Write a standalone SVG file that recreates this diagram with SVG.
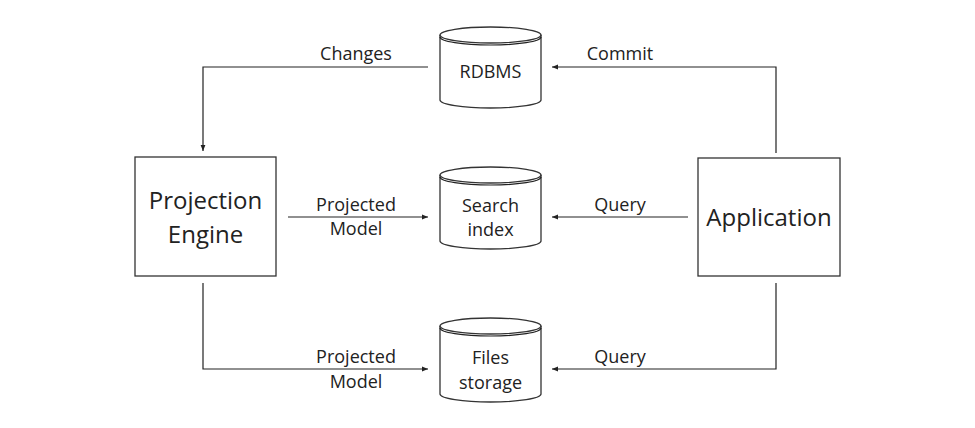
<svg xmlns="http://www.w3.org/2000/svg" width="975" height="428" viewBox="0 0 975 428">
<style>
.box{fill:#fff;stroke:#333;stroke-width:1.3}
.cyl{fill:#fff;stroke:#333;stroke-width:1.3}
.conn{fill:none;stroke:#222;stroke-width:1.2}
text{font-family:"Open Sans","Noto Sans",sans-serif;fill:#222;text-anchor:middle}
.big{font-size:24px}
.lbl{font-size:18px}
</style>
<defs>
<marker id="ah" viewBox="0 0 10 10" refX="10" refY="5" markerWidth="6" markerHeight="6" orient="auto" markerUnits="userSpaceOnUse">
<path d="M0,1 L10,5 L0,9 Z" fill="#222"/>
</marker>
</defs>
<rect width="975" height="428" fill="#fff"/>
<g id="connectors">
<path class="conn" d="M428,67 H203 V151" marker-end="url(#ah)"/>
<path class="conn" d="M288,217 H428" marker-end="url(#ah)"/>
<path class="conn" d="M203,283 V369 H428" marker-end="url(#ah)"/>
<path class="conn" d="M776,153 V67 H552" marker-end="url(#ah)"/>
<path class="conn" d="M688,217 H552" marker-end="url(#ah)"/>
<path class="conn" d="M776,283 V369 H552" marker-end="url(#ah)"/>
<text class="lbl" x="356" y="60">Changes</text>
<text class="lbl" x="356" y="211">Projected</text>
<text class="lbl" x="356" y="235">Model</text>
<text class="lbl" x="356" y="363">Projected</text>
<text class="lbl" x="356" y="388">Model</text>
<text class="lbl" x="620" y="60">Commit</text>
<text class="lbl" x="620" y="211">Query</text>
<text class="lbl" x="620" y="363">Query</text>
</g>
<g id="projection-engine">
<rect class="box" x="135" y="157" width="141" height="119"/>
<text class="big" x="205.5" y="209">Projection</text>
<text class="big" x="205.5" y="243">Engine</text>
</g>
<g id="application">
<rect class="box" x="698" y="158" width="142" height="118"/>
<text class="big" x="769" y="226">Application</text>
</g>
<g id="rdbms">
<path class="cyl" d="M440,35 V100 A50.5,8 0 0 0 541,100 V35"/>
<ellipse class="cyl" cx="490.5" cy="35" rx="50.5" ry="8"/>
<path class="conn" d="M440,37 A50.5,8 0 0 0 541,37" stroke="#333"/>
<text class="lbl" x="490.5" y="78">RDBMS</text>
</g>
<g id="search-index">
<path class="cyl" d="M440,175 V241 A50.5,8 0 0 0 541,241 V175"/>
<ellipse class="cyl" cx="490.5" cy="175" rx="50.5" ry="8"/>
<path class="conn" d="M440,177 A50.5,8 0 0 0 541,177" stroke="#333"/>
<text class="lbl" x="490.5" y="212">Search</text>
<text class="lbl" x="490.5" y="236">index</text>
</g>
<g id="files-storage">
<path class="cyl" d="M440,326 V394 A50.5,8 0 0 0 541,394 V326"/>
<ellipse class="cyl" cx="490.5" cy="326" rx="50.5" ry="8"/>
<path class="conn" d="M440,328 A50.5,8 0 0 0 541,328" stroke="#333"/>
<text class="lbl" x="490.5" y="364">Files</text>
<text class="lbl" x="490.5" y="389">storage</text>
</g>
</svg>
